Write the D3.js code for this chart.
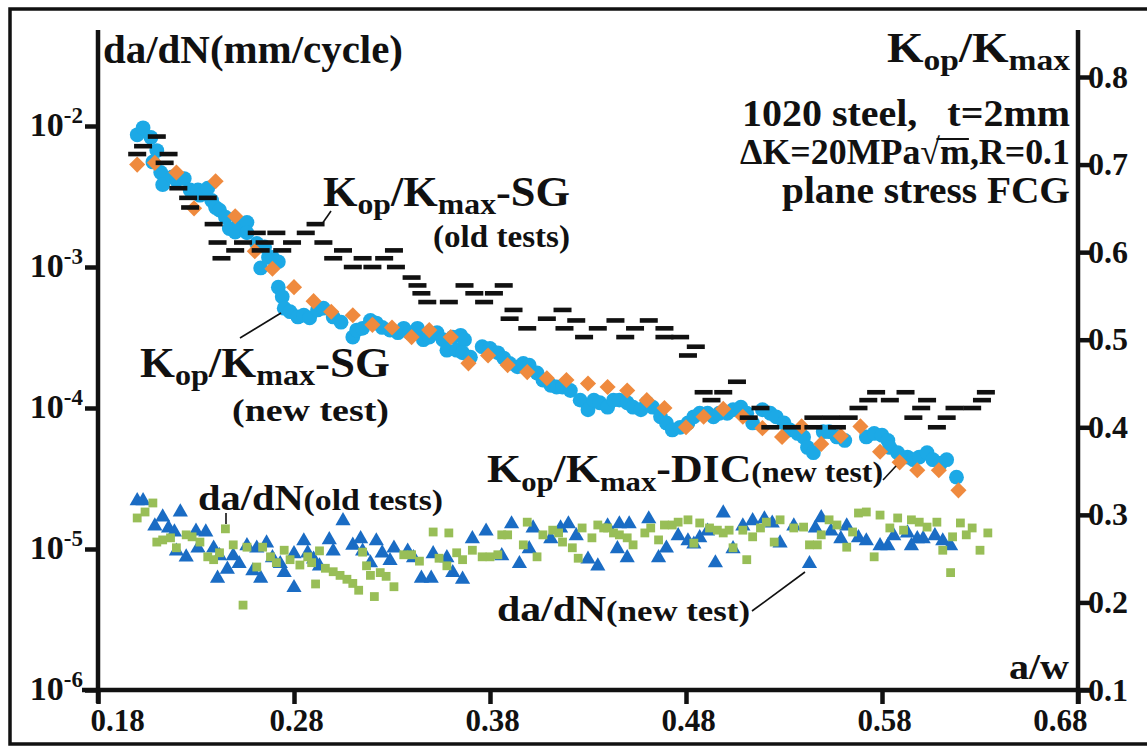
<!DOCTYPE html>
<html><head><meta charset="utf-8">
<script src="https://cdn.jsdelivr.net/npm/d3@7"></script>
<style>
body{margin:0;background:#fff}
svg{display:block}
text{font-family:"Liberation Serif","Times New Roman",serif;font-weight:bold;fill:#111}
</style>
</head><body>
<svg id="c" width="1147" height="746"></svg>
<script>
// ---------------- data ----------------
const aTicks = [0.18, 0.28, 0.38, 0.48, 0.58, 0.68];
const dadnTicks = [1e-6, 1e-5, 1e-4, 1e-3, 1e-2];
const dadnTickExp = ["-6", "-5", "-4", "-3", "-2"];
const kTicks = [0.1, 0.2, 0.3, 0.4, 0.5, 0.6, 0.7, 0.8];

// Kop/Kmax-SG (new test) : [a/w, Kop/Kmax]
const sgNew = [
[0.200,0.734],[0.203,0.742],[0.207,0.731],[0.210,0.716],[0.208,0.703],[0.212,0.691],[0.213,0.677],[0.218,0.686],
[0.220,0.682],[0.224,0.684],[0.227,0.671],[0.231,0.671],[0.232,0.665],[0.236,0.673],[0.238,0.659],[0.240,0.651],
[0.242,0.648],[0.245,0.640],[0.247,0.627],[0.250,0.623],[0.252,0.633],[0.256,0.634],[0.256,0.622],[0.261,0.610],
[0.263,0.582],[0.265,0.606],[0.267,0.594],[0.269,0.594],[0.272,0.589],[0.272,0.560],[0.274,0.549],[0.275,0.536],
[0.278,0.532],[0.282,0.526],[0.285,0.528],[0.288,0.525],[0.292,0.534],[0.295,0.536],[0.300,0.526],[0.304,0.520],
[0.310,0.503],[0.312,0.511],[0.315,0.513],[0.319,0.522],[0.322,0.519],[0.325,0.514],[0.329,0.511],[0.333,0.508],
[0.336,0.513],[0.339,0.508],[0.343,0.513],[0.346,0.500],[0.349,0.503],[0.353,0.508],[0.356,0.500],[0.358,0.488],
[0.361,0.503],[0.363,0.488],[0.365,0.505],[0.367,0.500],[0.366,0.485],[0.370,0.480],[0.376,0.492],[0.380,0.490],
[0.384,0.485],[0.387,0.479],[0.390,0.473],[0.394,0.469],[0.397,0.473],[0.400,0.471],[0.404,0.462],[0.407,0.454],
[0.411,0.448],[0.414,0.446],[0.417,0.446],[0.421,0.442],[0.426,0.431],[0.430,0.420],[0.433,0.431],[0.436,0.428],
[0.440,0.423],[0.443,0.431],[0.446,0.431],[0.450,0.428],[0.453,0.423],[0.457,0.420],[0.460,0.428],[0.463,0.423],
[0.467,0.412],[0.470,0.405],[0.473,0.397],[0.477,0.400],[0.481,0.405],[0.484,0.412],[0.487,0.416],[0.491,0.416],
[0.494,0.412],[0.497,0.416],[0.501,0.416],[0.504,0.420],[0.508,0.423],[0.511,0.416],[0.514,0.405],[0.519,0.420],
[0.523,0.416],[0.526,0.412],[0.530,0.405],[0.533,0.397],[0.537,0.393],[0.540,0.389],[0.542,0.377],[0.545,0.371],
[0.550,0.395],[0.553,0.395],[0.557,0.389],[0.561,0.385],[0.572,0.389],[0.576,0.393],[0.580,0.391],[0.583,0.385],
[0.584,0.377],[0.588,0.371],[0.593,0.366],[0.596,0.363],[0.599,0.366],[0.603,0.371],[0.606,0.363],[0.610,0.359],
[0.613,0.363],[0.618,0.343]
];

// Kop/Kmax-DIC (new test)
const dicNew = [
[0.200,0.700],[0.209,0.702],[0.220,0.691],[0.240,0.681],[0.229,0.650],[0.250,0.641],[0.260,0.601],[0.269,0.581],
[0.280,0.560],[0.290,0.544],[0.299,0.532],[0.310,0.528],[0.320,0.517],[0.330,0.514],[0.340,0.503],[0.349,0.511],
[0.360,0.503],[0.369,0.473],[0.379,0.482],[0.389,0.471],[0.399,0.463],[0.409,0.456],[0.419,0.454],[0.430,0.450],
[0.440,0.446],[0.450,0.442],[0.460,0.431],[0.469,0.422],[0.480,0.400],[0.489,0.412],[0.499,0.421],[0.509,0.412],
[0.519,0.399],[0.529,0.389],[0.539,0.401],[0.549,0.381],[0.559,0.390],[0.569,0.401],[0.579,0.372],[0.589,0.360],
[0.598,0.351],[0.609,0.351],[0.619,0.328]
];

// Kop/Kmax-SG (old tests)
const sgOld = [
[0.210,0.732],[0.203,0.721],[0.216,0.712],[0.200,0.712],[0.214,0.702],
[0.221,0.673],[0.226,0.662],[0.236,0.662],[0.227,0.651],[0.239,0.632],
[0.261,0.622],[0.271,0.622],[0.286,0.622],[0.291,0.632],
[0.241,0.611],[0.254,0.611],[0.265,0.611],[0.279,0.611],[0.295,0.611],
[0.250,0.602],[0.263,0.602],[0.274,0.602],[0.305,0.602],[0.331,0.602],
[0.243,0.593],[0.300,0.593],[0.315,0.593],[0.326,0.593],
[0.310,0.583],[0.320,0.583],[0.332,0.583],
[0.340,0.571],
[0.343,0.562],[0.367,0.562],[0.387,0.562],
[0.345,0.553],[0.372,0.553],[0.382,0.553],
[0.348,0.543],[0.359,0.543],[0.377,0.543],
[0.392,0.534],[0.417,0.534],
[0.390,0.524],[0.409,0.524],[0.424,0.522],[0.444,0.522],[0.461,0.522],
[0.399,0.513],[0.418,0.513],[0.435,0.513],[0.454,0.513],[0.469,0.513],
[0.428,0.503],[0.449,0.503],[0.469,0.503],[0.477,0.503],
[0.485,0.492],[0.481,0.482],
[0.506,0.452],
[0.489,0.440],[0.499,0.440],[0.577,0.440],[0.592,0.440],[0.633,0.440],
[0.493,0.431],[0.573,0.431],[0.584,0.431],[0.603,0.431],[0.631,0.431],
[0.518,0.422],[0.568,0.422],[0.600,0.422],[0.617,0.422],[0.626,0.422],
[0.512,0.411],[0.545,0.411],[0.554,0.411],[0.563,0.411],[0.596,0.411],[0.613,0.411],
[0.523,0.400],[0.534,0.400],[0.545,0.400],[0.557,0.400],[0.608,0.400]
];

// da/dN (new test) : [a/w, mm/cycle]
const dadnNew = [
[0.200,2.23e-5],[0.203,2.23e-5],[0.213,1.71e-5],[0.222,1.86e-5],[0.209,1.48e-5],[0.216,1.43e-5],[0.219,1.34e-5],
[0.220,9.8e-6],[0.225,8.9e-6],[0.230,1.36e-5],[0.235,1.34e-5],[0.231,1.03e-5],[0.239,1.03e-5],[0.242,9.1e-6],
[0.241,6.3e-6],[0.246,7.3e-6],[0.249,9.1e-6],[0.252,8.0e-6],[0.256,1.07e-5],[0.261,1.03e-5],[0.259,7.1e-6],
[0.263,6.3e-6],[0.266,1.12e-5],[0.269,8.8e-6],[0.273,8.0e-6],[0.275,6.9e-6],[0.280,5.4e-6],[0.280,9.4e-6],
[0.285,1.16e-5],[0.287,9.5e-6],[0.290,8.6e-6],[0.293,7.7e-6],[0.298,1.18e-5],[0.300,9.8e-6],[0.305,1.61e-5],
[0.310,1.08e-5],[0.314,1.20e-5],[0.315,9.8e-6],[0.319,8.1e-6],[0.322,1.16e-5],[0.325,9.5e-6],[0.329,8.4e-6],
[0.331,1.03e-5],[0.338,9.8e-6],[0.341,8.8e-6],[0.345,6.3e-6],[0.350,6.3e-6],[0.351,9.4e-6],[0.358,8.8e-6],
[0.361,6.9e-6],[0.366,6.2e-6],[0.371,1.20e-5],[0.378,1.36e-5],[0.386,9.1e-6],[0.391,1.53e-5],[0.395,8.0e-6],
[0.400,1.02e-5],[0.402,1.43e-5],[0.411,1.20e-5],[0.416,1.43e-5],[0.420,1.53e-5],[0.424,1.26e-5],[0.430,8.6e-6],
[0.435,7.7e-6],[0.440,1.48e-5],[0.445,1.02e-5],[0.446,1.53e-5],[0.450,8.8e-6],[0.451,1.53e-5],[0.461,1.66e-5],
[0.466,8.8e-6],[0.470,1.03e-5],[0.476,1.26e-5],[0.481,1.16e-5],[0.484,1.10e-5],[0.487,1.22e-5],[0.491,1.36e-5],
[0.495,8.1e-6],[0.499,1.83e-5],[0.504,1.02e-5],[0.509,1.48e-5],[0.514,1.61e-5],[0.520,1.66e-5],[0.524,1.55e-5],
[0.528,1.12e-5],[0.535,1.48e-5],[0.543,8.0e-6],[0.546,1.43e-5],[0.549,1.69e-5],[0.554,1.36e-5],[0.559,1.20e-5],
[0.562,1.48e-5],[0.568,1.22e-5],[0.572,1.16e-5],[0.579,1.07e-5],[0.583,1.07e-5],[0.586,1.26e-5],[0.593,1.32e-5],
[0.595,1.07e-5],[0.598,1.20e-5],[0.601,1.20e-5],[0.607,1.26e-5],[0.611,1.16e-5],[0.615,1.07e-5]
];

// da/dN (old tests)
const dadnOld = [
[0.200,1.66e-5],[0.208,2.12e-5],[0.204,1.83e-5],[0.210,1.12e-5],[0.213,1.16e-5],[0.217,1.20e-5],[0.220,1.02e-5],
[0.225,1.26e-5],[0.228,1.22e-5],[0.232,1.12e-5],[0.236,8.8e-6],[0.239,8.4e-6],[0.242,9.4e-6],[0.245,1.39e-5],
[0.249,1.07e-5],[0.254,4.0e-6],[0.256,1.03e-5],[0.261,7.45e-6],[0.264,1.03e-5],[0.268,8.8e-6],[0.271,8.0e-6],
[0.275,9.8e-6],[0.278,8.4e-6],[0.283,7.7e-6],[0.287,8.8e-6],[0.289,8.0e-6],[0.291,5.65e-6],[0.293,9.7e-6],
[0.296,7.3e-6],[0.300,6.9e-6],[0.3035,6.5e-6],[0.307,6.1e-6],[0.310,5.7e-6],[0.313,5.1e-6],[0.315,9.5e-6],
[0.317,7.6e-6],[0.319,6.5e-6],[0.321,4.6e-6],[0.324,6.8e-6],[0.327,6.4e-6],[0.331,5.4e-6],[0.336,9.1e-6],
[0.340,9.1e-6],[0.344,8.2e-6],[0.351,1.32e-5],[0.354,8.6e-6],[0.359,1.30e-5],[0.358,7.6e-6],[0.363,9.4e-6],
[0.366,8.4e-6],[0.371,9.8e-6],[0.376,8.8e-6],[0.380,8.8e-6],[0.384,9.1e-6],[0.386,1.26e-5],[0.389,1.26e-5],
[0.397,1.07e-5],[0.399,1.55e-5],[0.404,8.8e-6],[0.407,1.26e-5],[0.412,1.36e-5],[0.415,1.30e-5],[0.417,1.12e-5],
[0.422,1.02e-5],[0.425,8.6e-6],[0.427,1.41e-5],[0.432,1.20e-5],[0.435,1.48e-5],[0.438,1.41e-5],[0.440,1.41e-5],
[0.443,1.30e-5],[0.446,1.26e-5],[0.450,1.20e-5],[0.453,1.07e-5],[0.459,1.30e-5],[0.462,1.41e-5],[0.466,1.16e-5],
[0.469,1.48e-5],[0.473,1.48e-5],[0.476,1.55e-5],[0.481,1.61e-5],[0.484,1.10e-5],[0.487,1.53e-5],[0.492,1.41e-5],
[0.496,1.36e-5],[0.499,1.30e-5],[0.502,1.36e-5],[0.504,1.02e-5],[0.509,1.36e-5],[0.511,8.4e-6],[0.514,1.22e-5],
[0.518,1.41e-5],[0.521,1.55e-5],[0.525,1.12e-5],[0.528,1.61e-5],[0.535,1.41e-5],[0.540,1.43e-5],[0.543,1.07e-5],
[0.547,1.07e-5],[0.549,1.26e-5],[0.553,1.61e-5],[0.557,1.48e-5],[0.562,1.03e-5],[0.565,1.32e-5],[0.568,1.80e-5],
[0.572,1.83e-5],[0.576,8.8e-6],[0.579,1.74e-5],[0.584,1.41e-5],[0.588,1.66e-5],[0.591,1.36e-5],[0.595,1.61e-5],
[0.599,1.55e-5],[0.603,1.43e-5],[0.608,1.55e-5],[0.611,9.8e-6],[0.615,6.8e-6],[0.616,1.22e-5],[0.620,1.53e-5],
[0.623,1.26e-5],[0.626,1.41e-5],[0.630,9.8e-6],[0.634,1.30e-5]
];

// ---------------- chart ----------------
const svg = d3.select("#c");
const x = d3.scaleLinear().domain([0.18, 0.68]).range([98, 1078]);
const yL = d3.scaleLog().domain([1e-6, 1e-2]).range([690, 126]);
const yR = d3.scaleLinear().domain([0.1, 0.8]).range([690, 77]);

// outer frame
svg.append("rect").attr("x", 10).attr("y", 9).attr("width", 1160).attr("height", 735)
  .attr("fill", "none").attr("stroke", "#111").attr("stroke-width", 3.5);

// markers
const COL_SG = "#1CA9E6", COL_DIC = "#EF8A3E", COL_NEW = "#1A6CC4", COL_OLD = "#98BE57";

svg.append("g").selectAll("path").data(dadnNew).join("path")
  .attr("d", d3.symbol(d3.symbolTriangle, 100))
  .attr("transform", d => `translate(${x(d[0])},${yL(d[1]) + 1})`)
  .attr("fill", COL_NEW);

svg.append("g").selectAll("rect").data(dadnOld).join("rect")
  .attr("x", d => x(d[0]) - 4.4).attr("y", d => yL(d[1]) - 4.4)
  .attr("width", 8.8).attr("height", 8.8).attr("fill", COL_OLD);

svg.append("g").selectAll("circle").data(sgNew).join("circle")
  .attr("cx", d => x(d[0])).attr("cy", d => yR(d[1])).attr("r", 7.4)
  .attr("fill", COL_SG);

svg.append("g").selectAll("path").data(dicNew).join("path")
  .attr("d", d3.symbol(d3.symbolSquare, 130))
  .attr("transform", d => `translate(${x(d[0])},${yR(d[1])}) rotate(45)`)
  .attr("fill", COL_DIC);

svg.append("g").selectAll("rect").data(sgOld).join("rect")
  .attr("x", d => x(d[0]) - 9).attr("y", d => yR(d[1]) - 2.3)
  .attr("width", 18).attr("height", 4.6).attr("fill", "#111");

// axes
const AX = "#111", AW = 4.5;
function styleAxis(g) {
  g.select(".domain").remove();
  g.selectAll(".tick line").attr("stroke", AX).attr("stroke-width", AW);
  g.selectAll(".tick text").attr("fill", "#111").style("font-size", "31px")
    .style("font-family", '"Liberation Serif","Times New Roman",serif').style("font-weight", "bold");
}

const gx = svg.append("g").attr("transform", "translate(0,690)")
  .call(d3.axisBottom(x).tickValues(aTicks).tickSize(14).tickSizeOuter(0).tickFormat(d3.format(".2f")));
styleAxis(gx);
gx.selectAll(".tick text").attr("y", 41).attr("dy", 0)
  .attr("text-anchor", (d, i) => i === 0 ? "start" : (i === aTicks.length - 1 ? "end" : "middle"))
  .attr("x", (d, i) => i === 0 ? -8 : (i === aTicks.length - 1 ? 9 : 2));

const gl = svg.append("g").attr("transform", "translate(98,0)")
  .call(d3.axisLeft(yL).tickValues(dadnTicks).tickSize(13).tickSizeOuter(0).tickFormat(""));
styleAxis(gl);
gl.selectAll(".tick").each(function (d, i) {
  const t = d3.select(this).append("text").attr("x", -15).attr("y", 9)
    .attr("text-anchor", "end").attr("fill", "#111");
  t.append("tspan").style("font-size", "34px").text("10");
  t.append("tspan").attr("dy", -13).style("font-size", "23px").text(dadnTickExp[i]);
});

const gr = svg.append("g").attr("transform", "translate(1078,0)")
  .call(d3.axisRight(yR).tickValues(kTicks).tickSize(13).tickSizeOuter(0).tickFormat(d3.format(".1f")));
styleAxis(gr);
gr.selectAll(".tick text").attr("x", 10).attr("y", 10).attr("dy", 0).attr("text-anchor", "start")
  .style("font-size", "32px");

// axis lines
svg.append("line").attr("x1", 98).attr("x2", 98).attr("y1", 30).attr("y2", 703).attr("stroke", AX).attr("stroke-width", AW);
svg.append("line").attr("x1", 1078).attr("x2", 1078).attr("y1", 30).attr("y2", 704).attr("stroke", AX).attr("stroke-width", AW);
svg.append("line").attr("x1", 82).attr("x2", 1091).attr("y1", 690).attr("y2", 690).attr("stroke", AX).attr("stroke-width", AW);

// texts
function rich(x0, y0, parts, len) {
  const t = svg.append("text").attr("x", x0).attr("y", y0).style("white-space", "pre");
  let cur = 0;
  parts.forEach(p => {
    const off = p[2] || 0;
    const s = t.append("tspan").style("font-size", p[1] + "px").text(p[0]);
    if (off - cur !== 0) s.attr("dy", off - cur);
    cur = off;
  });
  if (len) t.attr("textLength", len).attr("lengthAdjust", "spacingAndGlyphs");
  return t;
}
const kk = (sz, sub, dsub) => [["K", sz], ["op", sub, dsub], ["/", sz], ["K", sz], ["max", sub, dsub]];

rich(103, 63, [["da/dN(mm/cycle)", 40]], 300);
rich(887, 62, kk(42, 30, 8), 183);
rich(742, 126, [["1020 steel,   t=2mm", 37]], 328);
const dk = rich(740, 164, [["\u0394K=20MPa\u221Am,R=0.1", 36]], 330);
// radical bar over "m"
{
  const node = dk.node();
  const eR = node.getExtentOfChar(8), eM = node.getExtentOfChar(9);
  svg.append("line")
    .attr("x1", eR.x + eR.width * 0.82).attr("x2", eM.x + eM.width - 1)
    .attr("y1", 139).attr("y2", 139)
    .attr("stroke", "#111").attr("stroke-width", 2);
}
rich(782, 203, [["plane stress FCG", 37]], 288);

rich(323, 206, kk(42, 30, 8).concat([["-SG", 42]]), 247);
rich(433, 247, [["(old tests)", 32]], 137);
rich(140, 377, kk(42, 30, 8).concat([["-SG", 42]]), 250);
rich(232, 421, [["(new test)", 31]], 157);
rich(487, 482, kk(40, 28, 9).concat([["-DIC", 40], ["(new test)", 29]]), 396);
rich(198, 510, [["da/dN", 36], ["(old tests)", 30]], 245);
rich(497, 621, [["da/dN", 36], ["(new test)", 30]], 253);
rich(1009, 679, [["a/w", 36]], 60);

// pointer lines
const ptr = [[322, 224, 331, 211], [240, 338, 281, 313], [883, 480, 896, 466], [226, 513, 226, 524], [752, 611, 805, 572]];
svg.append("g").selectAll("line").data(ptr).join("line")
  .attr("x1", d => d[0]).attr("y1", d => d[1]).attr("x2", d => d[2]).attr("y2", d => d[3])
  .attr("stroke", "#111").attr("stroke-width", 1.6);
</script>
</body></html>
